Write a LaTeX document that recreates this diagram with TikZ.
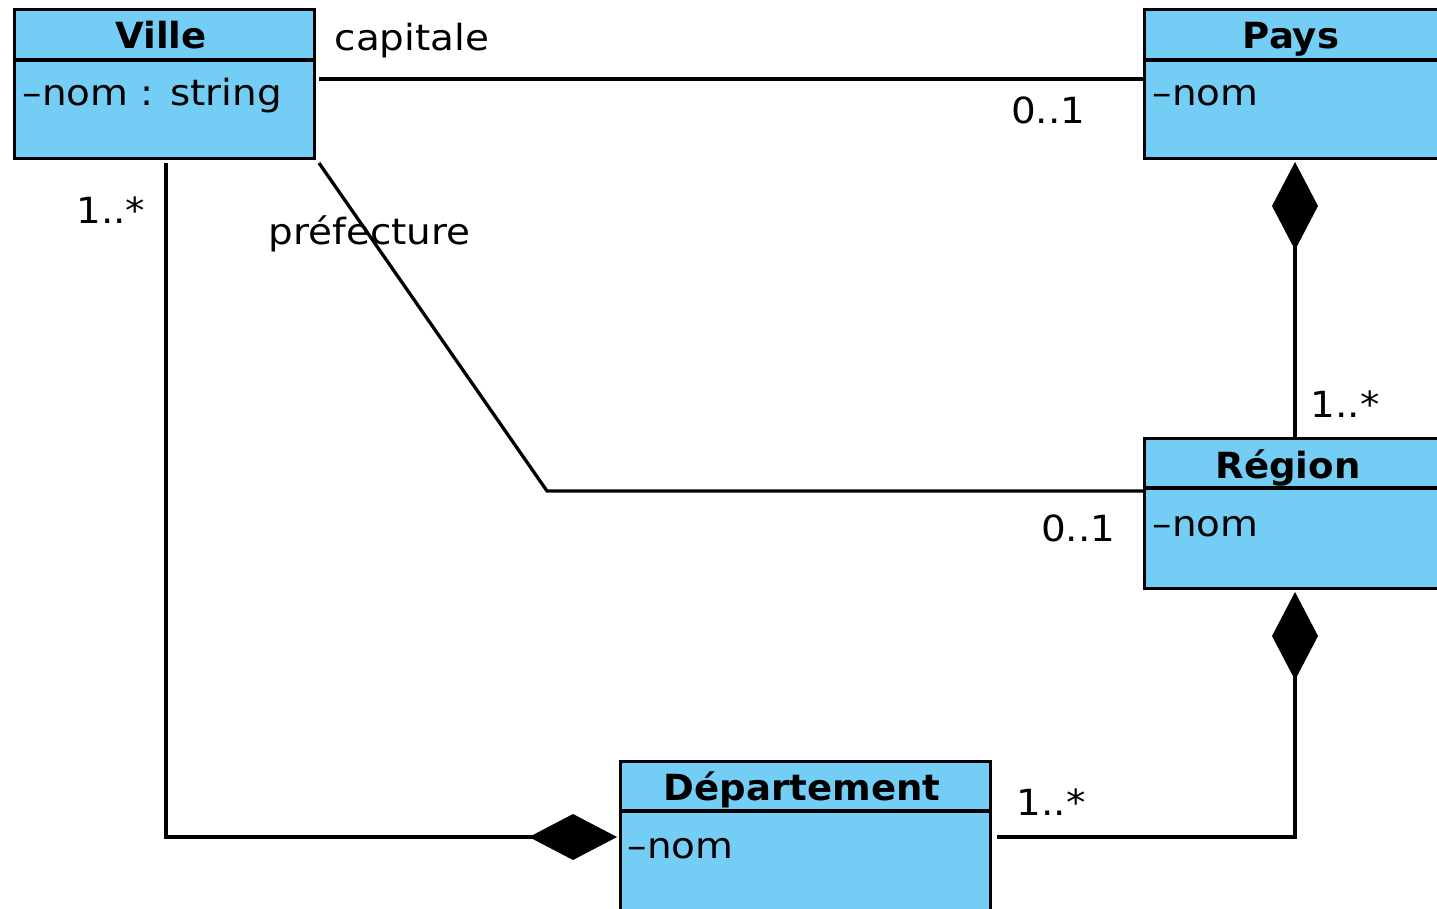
\documentclass[tikz,border=0pt]{standalone}
\usepackage{fontspec}
\setmainfont{DejaVu Sans}[FakeStretch=1.08,BoldFeatures={FakeStretch=1.03}]
\usetikzlibrary{arrows.meta}
\definecolor{classblue}{HTML}{74CDF4}
\begin{document}
\begin{tikzpicture}[x=1pt,y=-1pt,line width=3.3pt,
  classbox/.style={draw=black,fill=classblue,anchor=north west,inner sep=0pt,line width=3.3pt},
  lbl/.style={font=\fontsize{36}{42}\selectfont,inner sep=0pt,anchor=base west},
  lble/.style={font=\fontsize{36}{42}\selectfont,inner sep=0pt,anchor=base east},
  ctitle/.style={font=\fontsize{36}{42}\selectfont\bfseries,inner sep=0pt,anchor=base},
  comp/.style={-{Diamond[length=88pt,width=46pt]}}]
\useasboundingbox (0,0) rectangle (1437,908);
\clip (0,0) rectangle (1437,908);
% classes
\node[classbox,minimum width=300pt,minimum height=149pt] (ville) at (13,8) {};
\draw (ville.north west) ++(0,52) -- ++(300,0);
\node[ctitle] (villeT) at (161,48) {Ville};
\node[lbl] (villeA) at (21,105) {–nom : string};

\node[classbox,minimum width=300pt,minimum height=149pt] (pays) at (1143,8) {};
\draw (pays.north west) ++(0,52) -- ++(300,0);
\node[ctitle] (paysT) at (1291,48) {Pays};
\node[lbl] (paysA) at (1151,105) {–nom};

\node[classbox,minimum width=300pt,minimum height=150pt] (region) at (1143,437) {};
\draw (region.north west) ++(0,51) -- ++(300,0);
\node[ctitle] (regionT) at (1288,478) {Région};
\node[lbl] (regionA) at (1151,536) {–nom};

\node[classbox,minimum width=370pt,minimum height=160pt] (dep) at (619,760) {};
\draw (dep.north west) ++(0,51) -- ++(370,0);
\node[ctitle] (depT) at (802,800) {Département};
\node[lbl] (depA) at (626,858) {–nom};

% connectors
\coordinate (vc) at (319,79);
\draw (vc) -- (pays.west |- vc);
\node[lbl] (capT) at (333,50) {capitale};
\node[lble] (capM) at (1087,123) {0..1};

\coordinate (vp) at (319,163);
\coordinate (bend) at (547,491);
\draw (vp) -- (bend) -- (region.west |- bend);
\node[lbl] (prefT) at (267,244) {préfecture};
\node[lble] (prefM) at (1117,541) {0..1};

\coordinate (rtop) at (1295,437);
\coordinate (ptip) at (1295,162);
\draw[comp] (rtop) -- (ptip);
\node[lbl] (prM) at (1309,417) {1..*};

\coordinate (dc) at (997,837);
\coordinate (rdcorner) at (1295,837);
\coordinate (rtip) at (1295,592);
\draw[comp] (dc) -- (rdcorner) -- (rtip);
\node[lbl] (rdM) at (1015,815) {1..*};

\coordinate (vb) at (166,163);
\coordinate (vdcorner) at (166,837);
\coordinate (dtip) at (617,837);
\draw[comp] (vb) -- (vdcorner) -- (dtip);
\node[lble] (vdM) at (147,223) {1..*};
\end{tikzpicture}
\end{document}
